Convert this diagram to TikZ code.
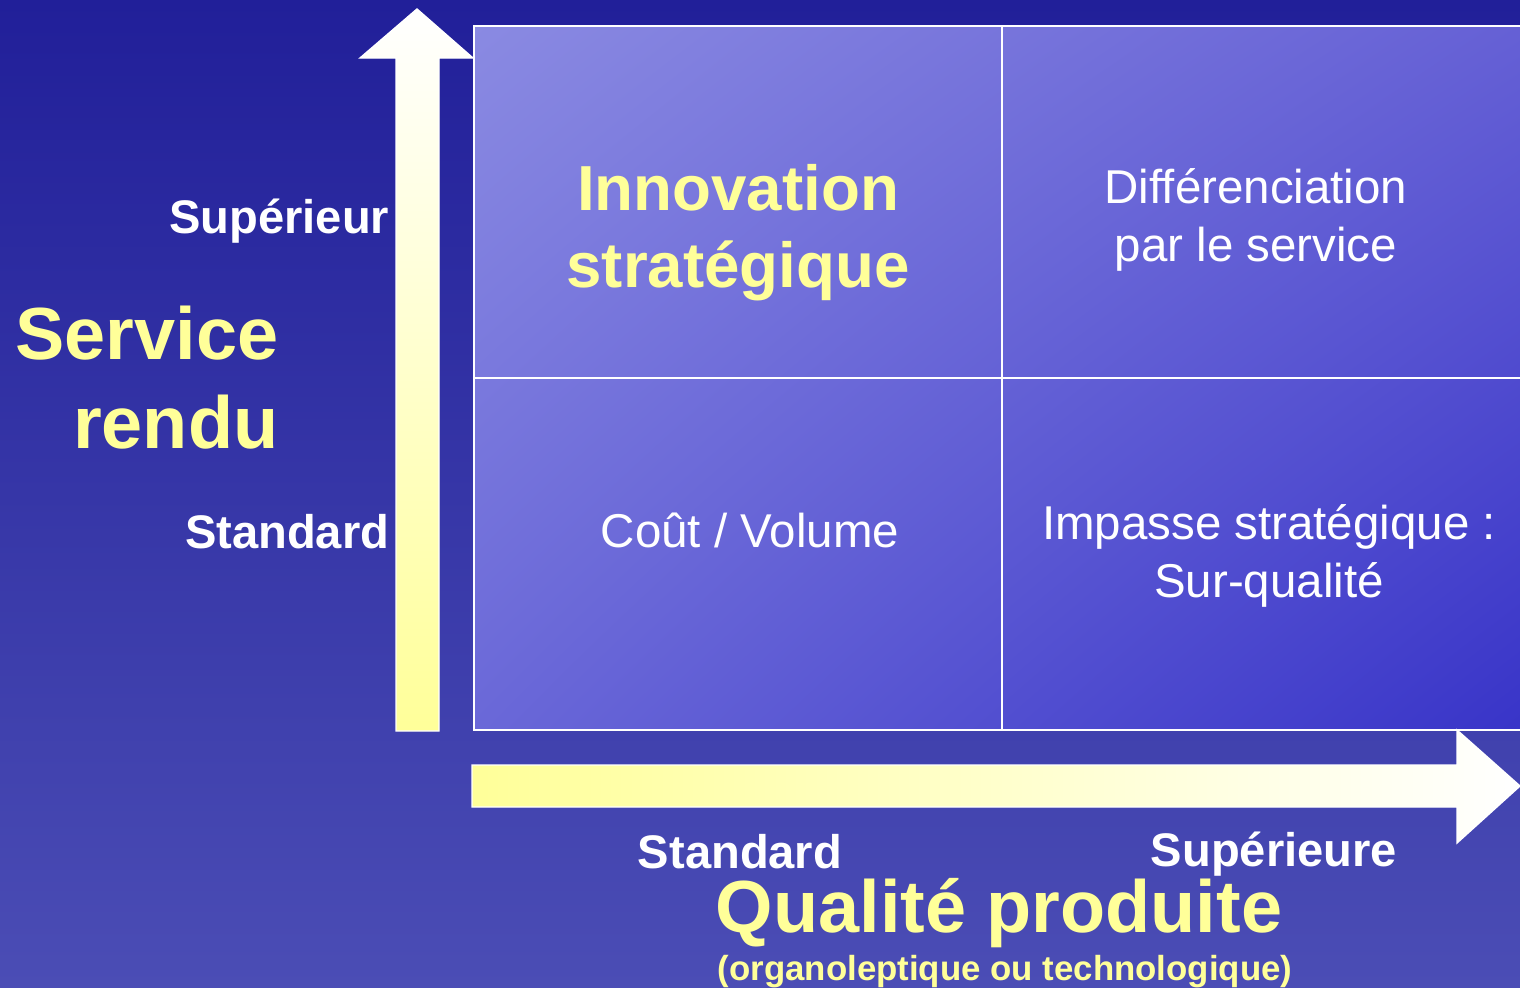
\documentclass[tikz,border=0pt]{standalone}
\usepackage{fontspec}
\setmainfont{Liberation Sans}
\usepackage{tikz}
\usetikzlibrary{positioning,calc,shadings}
\usepackage{xcolor}

\definecolor{bgtop}{HTML}{211F99}
\definecolor{bgbottom}{HTML}{4B4DB5}
\definecolor{gridul}{HTML}{8A8AE2}
\definecolor{gridur}{HTML}{6560D5}
\definecolor{gridll}{HTML}{6A68D8}
\definecolor{gridlr}{HTML}{3834C8}
\definecolor{paleyellow}{HTML}{FFFF99}

\tikzset{
  axislabel/.style={text=white, font=\fontsize{13.4}{16}\selectfont\bfseries, inner sep=0pt},
  bigtitle/.style={text=paleyellow, font=\fontsize{21}{25.3}\selectfont\bfseries, inner sep=0pt},
  celltitle/.style={text=paleyellow, font=\fontsize{18.1}{21.9}\selectfont\bfseries, align=center, inner sep=0pt},
  celltext/.style={text=white, font=\fontsize{13.5}{16.5}\selectfont, align=center, inner sep=0pt},
  gridline/.style={white, line width=0.6pt},
}

\begin{document}
\begin{tikzpicture}[x=0.01cm, y=-0.01cm]

\useasboundingbox (0,0) rectangle (1520,987);
\clip (0,0) rectangle (1520,987);

% Background
\shade[top color=bgtop, bottom color=bgbottom] (0,0) rectangle (1520,987);

% Quadrant grid
\shade[upper left=gridul, upper right=gridur, lower left=gridll, lower right=gridlr] (474,26) rectangle (1530,730);
\draw[gridline] (474,26) rectangle (1530,730);
\draw[gridline] (1002,26) -- (1002,730);
\draw[gridline] (474,378) -- (1530,378);

% Vertical axis arrow
\shade[top color=white, bottom color=paleyellow, draw=white, line width=0.4pt]
  (396,731) -- (396,58) -- (360,58) -- (417,9) -- (473,58) -- (439,58) -- (439,731) -- cycle;

% Horizontal axis arrow
\shade[left color=paleyellow, right color=white, draw=white, line width=0.4pt]
  (472,765) -- (1457,765) -- (1457,730) -- (1520,786) -- (1457,843) -- (1457,807) -- (472,807) -- cycle;

% Vertical axis labels
\node[axislabel, anchor=east] (vsup) at (390,221) {Supérieur};
\node[axislabel, anchor=east] (vstd) at (390,532) {Standard};
\node[bigtitle, anchor=east, align=right] (service) at (279,378) {Service\\rendu};

% Quadrants
\node[celltitle] (innov) at (738,233) {Innovation\\stratégique};
\node[celltext] (diff) at (1256,220) {Différenciation\\par le service};
\node[celltext] (cout) at (750,530) {Coût / Volume};
\node[celltext] (impasse) at (1269,556) {Impasse stratégique :\\Sur-qualité};

% Horizontal axis labels
\node[axislabel] (hstd) at (740,852) {Standard};
\node[axislabel] (hsup) at (1274,854) {Supérieure};
\node[bigtitle] (qualite) at (999,913) {Qualité produite};
\node[text=paleyellow, font=\fontsize{9.9}{12}\selectfont\bfseries, inner sep=0pt] (orga) at (1005,972) {(organoleptique ou technologique)};

\end{tikzpicture}
\end{document}
